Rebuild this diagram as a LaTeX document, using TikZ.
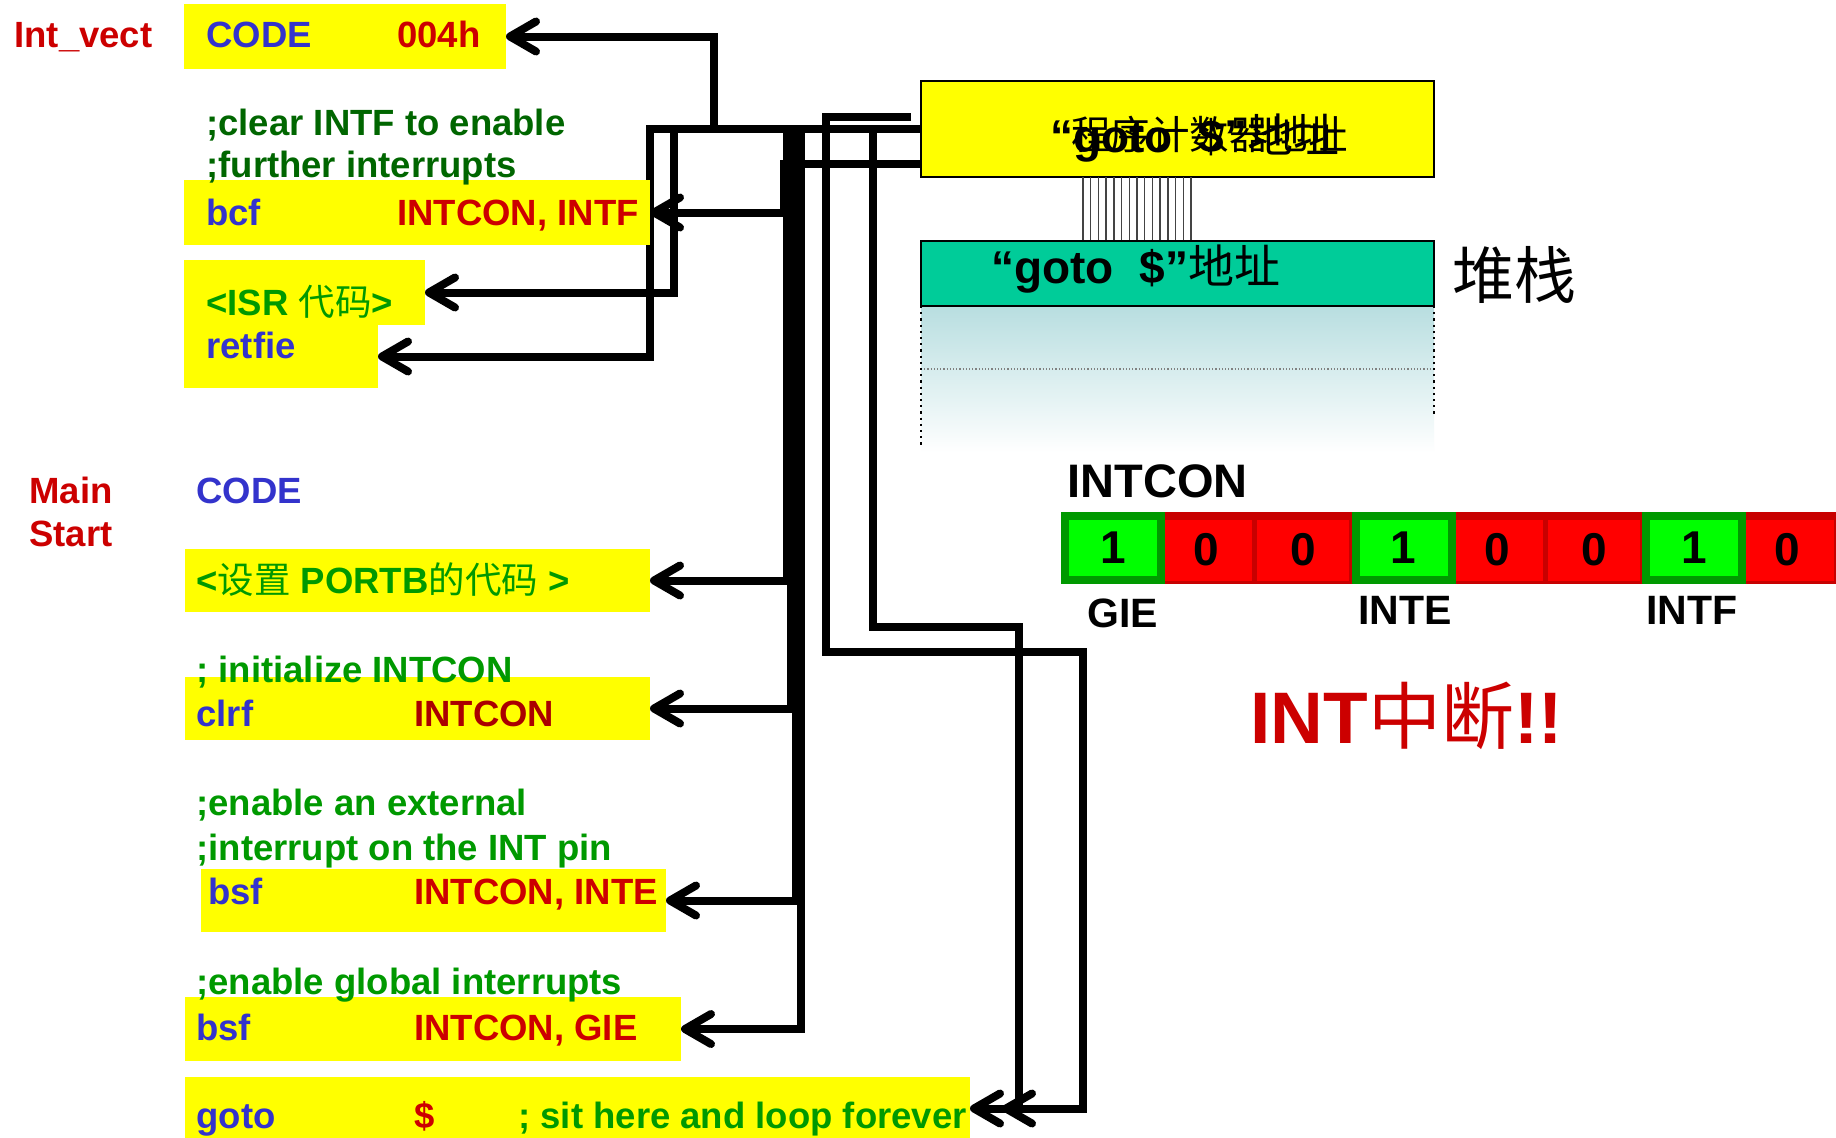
\documentclass[tikz,border=0pt]{standalone}
\usepackage{fontspec}
\setmainfont{Liberation Sans}
\newfontfamily\cjk{Noto Sans CJK SC}
\usetikzlibrary{arrows.meta,calc}
\pgfdeclarelayer{back}
\pgfdeclarelayer{bg}
\pgfsetlayers{back,bg,main}
\newcommand\myfs[1]{\fontsize{#1pt}{#1pt}\selectfont}
\definecolor{cred}{HTML}{CC0000}
\definecolor{cmaroon}{HTML}{AA0000}
\definecolor{cblue}{HTML}{3333CC}
\definecolor{cdgreen}{HTML}{006600}
\definecolor{cgreen}{HTML}{009900}
\definecolor{cyel}{HTML}{FFFF00}
\definecolor{cteal}{HTML}{00CC99}
\definecolor{cgrad}{HTML}{B8DEE0}
\definecolor{cbred}{HTML}{FF0000}
\definecolor{cdred}{HTML}{C80000}
\definecolor{cbgreen}{HTML}{00FF00}
\definecolor{cgborder}{HTML}{009900}
\definecolor{cwire}{HTML}{444444}
\begin{document}
\begin{tikzpicture}[x=0.5pt,y=-0.5pt,
  wire/.style={line width=4pt},
  arr/.style={wire,-{Straight Barb[length=13pt,width=15pt,round]}},
  ybox/.style={fill=cyel,inner sep=0pt,outer sep=0pt,anchor=north west},
  ct/.style={inner sep=0pt,anchor=base west,font=\bfseries\myfs{18.25}},
  digit/.style={inner sep=0pt,font=\bfseries\myfs{23}},
  ]
\begin{pgfonlayer}{back}
\fill[white] (0,0) rectangle (1836,1137);
\end{pgfonlayer}
\useasboundingbox (0,0) rectangle (1836,1137);
\clip (0,0) rectangle (1836,1137);

% ---------- yellow code boxes ----------
\node[ybox,minimum width=161pt,minimum height=32.5pt] (box1) at (184,4) {};
\node[ybox,minimum width=233pt,minimum height=32.5pt] (bcf) at (184,180) {};
\node[ybox,minimum width=120.5pt,minimum height=32.5pt] (isr) at (184,260) {};
\node[ybox,minimum width=97pt,minimum height=31.5pt] (retfie) at (184,325) {};
\node[ybox,minimum width=232.5pt,minimum height=31.5pt] (portb) at (185,549) {};
\node[ybox,minimum width=232.5pt,minimum height=31.5pt] (clrf) at (185,677) {};
\node[ybox,minimum width=232.5pt,minimum height=31.5pt] (inte) at (201,869) {};
\node[ybox,minimum width=248pt,minimum height=32pt] (gie) at (185,997) {};
\node[ybox,minimum width=392.5pt,minimum height=31.5pt] (gotob) at (185,1077) {};

% ---------- program counter and stack ----------
\node[fill=cyel,draw=black,line width=1pt,inner sep=0pt,outer sep=0pt,anchor=north west,
      minimum width=256.5pt,minimum height=48pt] (pc) at (921,81) {};
\foreach \k in {0,...,14}
  \draw[cwire,line width=0.7pt] (1083+7.714*\k,177) -- (1083+7.714*\k,241);
\shade[top color=cgrad,bottom color=white] (921,306) rectangle (1434,453);
\draw[densely dotted,gray,line width=0.6pt] (921,369) -- (1434,369);
\draw[dotted,line width=1.1pt] (921,306) -- (921,447);
\draw[dotted,line width=1.1pt] (1434,306) -- (1434,415);
\node[fill=cteal,draw=black,line width=1pt,inner sep=0pt,outer sep=0pt,anchor=north west,
      minimum width=256.5pt,minimum height=32.5pt] (stack) at (921,241) {};

\node[inner sep=0pt,anchor=west,font=\cjk\myfs{19.75}] (pcs1) at (1071,134) {程序计数器地址};
\node[ct,font=\bfseries\myfs{23}] (pcs2) at (1050,152) {“goto\ \ \$”{\cjk\mdseries 地址}};
\node[ct,font=\bfseries\myfs{23}] (sts) at (991,283) {“goto\ \ \$”{\cjk\mdseries 地址}};
\node[inner sep=0pt,font=\cjk\myfs{31}] (stk) at (1514,275) {堆栈};

% ---------- connectors ----------
\begin{pgfonlayer}{bg}
\coordinate (c1) at (911,117);
\draw[arr] (pc.west) -- (714,129) -- (714,0 |- box1.east) -- (box1.east);
\draw[arr] (pc.west) -- (650,129) -- (650,0 |- retfie.east) -- (retfie.east);
\draw[arr] (pc.west) -- (674,129) -- (674,0 |- isr.east) -- (isr.east);
\draw[arr] ($(pc.west)+(0,35)$) -- (784,164) -- (784,0 |- bcf.east) -- (bcf.east);
\draw[arr] (pc.west) -- (787,129) -- (787,0 |- portb.east) -- (portb.east);
\draw[arr] (pc.west) -- (791,129) -- (791,0 |- clrf.east) -- (clrf.east);
\draw[arr] (pc.west) -- (796,129) -- (796,0 |- inte.east) -- (inte.east);
\draw[arr] (pc.west) -- (801,129) -- (801,0 |- gie.east) -- (gie.east);
\draw[arr] (c1) -- (826,117) -- (826,652) -- (1083,652) -- (1083,0 |- gotob.east) -- (gotob.east);
\draw[arr] (pc.west) -- (873,129) -- (873,627) -- (1019,627) -- (1019,0 |- gotob.east) -- ($(gotob.east)+(32,0)$);
\end{pgfonlayer}

% ---------- code texts ----------
\node[ct,cred] (intvect) at (14,47) {Int\_vect};
\node[ct,cblue] (code1) at (206,47) {CODE};
\node[ct,cred] (h004) at (397,47) {004h};
\node[ct,cdgreen] (cm1) at (206,135) {;clear INTF to enable};
\node[ct,cdgreen] (cm2) at (206,177) {;further interrupts};
\node[ct,cblue] (bcft) at (206,225) {bcf};
\node[ct,cred] (bcfa) at (397,225) {INTCON, INTF};
\node[ct,cgreen] (isrt) at (206,315) {<ISR {\cjk\mdseries 代码}>};
\node[ct,cblue] (rett) at (206,358) {retfie};
\node[ct,cred] (mainl) at (29,503) {Main};
\node[ct,cred] (startl) at (29,546) {Start};
\node[ct,cblue] (code2) at (196,503) {CODE};
\node[ct,cgreen] (portbt) at (196,593) {<{\cjk\mdseries 设置} PORTB{\cjk\mdseries 的代码} >};
\node[ct,cgreen] (cm3) at (196,682) {; initialize INTCON};
\node[ct,cblue] (clrft) at (196,726) {clrf};
\node[ct,cmaroon] (clrfa) at (414,726) {INTCON};
\node[ct,cgreen] (cm4) at (196,815) {;enable an external};
\node[ct,cgreen] (cm5) at (196,860) {;interrupt on the INT pin};
\node[ct,cblue] (intet) at (208,904) {bsf};
\node[ct,cred] (intea) at (414,904) {INTCON, INTE};
\node[ct,cgreen] (cm6) at (196,994) {;enable global interrupts};
\node[ct,cblue] (giet) at (196,1040) {bsf};
\node[ct,cred] (giea) at (414,1040) {INTCON, GIE};
\node[ct,cblue] (gotot) at (196,1128) {goto};
\node[ct,cred] (gotoa) at (414,1128) {\$};
\node[ct,cgreen] (gotoc) at (518,1128) {; sit here and loop forever};

% ---------- INTCON register ----------
\node[ct,font=\bfseries\myfs{23.5}] (intcon) at (1067,497) {INTCON};
\foreach \i in {1,2,4,5,7} {
  \pgfmathsetmacro\xa{1061+96.9*\i}
  \fill[cdred] (\xa,512) rectangle ++(96.9,72);
  \fill[cbred] (\xa+2.5,520) rectangle ++(92,61);
  \node[digit] (bit\i) at (\xa+48.45,550) {0};
}
\foreach \i in {0,3,6} {
  \pgfmathsetmacro\xa{1061+96.9*\i}
  \node[digit,fill=cbgreen,draw=cgborder,line width=4pt,outer sep=0pt,anchor=north west,
        minimum width=48pt,minimum height=32pt] (bit\i) at (\xa+4,516) {1};
}
\node[ct,anchor=base,font=\bfseries\myfs{20.5}] (giel) at (1123,627) {GIE};
\node[ct,anchor=base,font=\bfseries\myfs{20.5}] (intel) at (1405,624) {INTE};
\node[ct,anchor=base,font=\bfseries\myfs{20.5}] (intfl) at (1692,624) {INTF};

\node[ct,cred,font=\bfseries\myfs{36.5}] (intint) at (1250,743) {INT{\cjk\mdseries 中断}!!};
\end{tikzpicture}
\end{document}
